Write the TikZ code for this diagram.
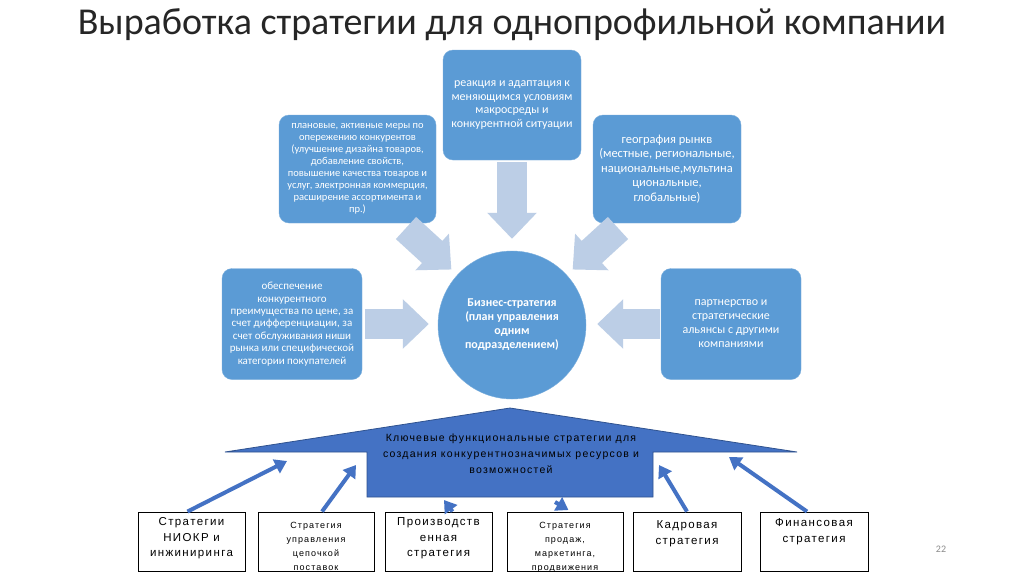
\documentclass[tikz,border=0pt]{standalone}
\usepackage{fontspec}
\setmainfont{Carlito}
\newfontfamily\boxfont[LetterSpace=12]{Liberation Sans}
\usepackage{tikz}
\usetikzlibrary{arrows.meta,positioning}
\definecolor{boxblue}{RGB}{91,155,213}
\definecolor{fatgray}{RGB}{188,206,230}
\definecolor{roofblue}{RGB}{68,114,196}
\definecolor{roofedge}{RGB}{47,82,143}

\begin{document}
\begin{tikzpicture}[x=1pt,y=-1pt,
    goal/.style={rectangle,rounded corners=10pt,fill=boxblue,draw=boxblue!80!white,
                 text=white,align=center,inner sep=2pt},
    fat/.style={line width=30pt,color=fatgray,-{Triangle[length=26pt,width=48pt]}},
    thin/.style={line width=4pt,color=roofblue,-{Triangle[length=12pt,width=15pt]}},
    stratbox/.style={draw=black,line width=0.9pt,fill=white,minimum height=59pt,inner sep=0pt},
    strat/.style={align=center,inner sep=1pt,font=\boxfont\fontsize{11.5}{15.5}\selectfont},
    stratsmall/.style={align=center,inner sep=1pt,font=\boxfont\fontsize{9}{14}\selectfont}]
  \fill[white] (0,0) rectangle (1024,574);
  \useasboundingbox (0,0) rectangle (1024,574);

  \node[text=black!85,font=\fontsize{38}{40}\selectfont] (title) at (512,25)
       {Выработка стратегии для однопрофильной компании};

  % upper row of goals
  \node[goal,minimum width=138pt,minimum height=110pt,font=\fontsize{12}{13.5}\selectfont]
       (react) at (512,105) {реакция и адаптация к\\меняющимся условиям\\макросреды и\\конкурентной ситуации};
  \node[goal,minimum width=157pt,minimum height=108pt,font=\fontsize{10.5}{12}\selectfont]
       (plan) at (357.5,169) {плановые, активные меры по\\опережению конкурентов\\(улучшение дизайна товаров,\\добавление свойств,\\повышение качества товаров и\\услуг, электронная коммерция,\\расширение ассортимента и\\пр.)};
  \node[goal,minimum width=148pt,minimum height=108pt,font=\fontsize{12.5}{14.5}\selectfont]
       (geo) at (667,169) {география рынкв\\(местные, региональные,\\национальные,мультина\\циональные,\\глобальные)};

  % middle row
  \node[goal,minimum width=140pt,minimum height=111pt,font=\fontsize{11}{12.4}\selectfont]
       (price) at (292,324) {обеспечение\\конкурентного\\преимущества по цене, за\\счет дифференциации, за\\счет обслуживания ниши\\рынка или специфической\\категории покупателей};
  \node[goal,minimum width=140pt,minimum height=111pt,font=\fontsize{12}{14}\selectfont]
       (partner) at (731,324) {партнерство и\\стратегические\\альянсы с другими\\компаниями};
  \node[circle,fill=boxblue,draw=boxblue!80!white,minimum size=148pt,text=white,align=center,
        font=\bfseries\fontsize{12}{14}\selectfont]
       (biz) at (512,325) {Бизнес-стратегия\\(план управления\\одним\\подразделением)};

  \coordinate (ulA) at (406,228);
  \coordinate (urA) at (618,228);
  \path[fat] (react) edge[shorten <=2pt,shorten >=12pt] (biz)
             (ulA) edge[shorten >=8pt] (biz)
             (urA) edge[shorten >=8pt] (biz)
             (price.east) edge[shorten <=3pt,shorten >=9pt] (price.east -| biz.west)
             (partner.west) edge[shorten <=1pt,shorten >=11pt] (partner.west -| biz.east);

  % functional strategies
  \draw[fill=roofblue,draw=roofedge,line width=0.8pt]
       (225,452) -- (510,408) -- (797,452) -- (653,452) -- (653,497) -- (367,497) -- (367,452) -- cycle;
  \node[align=center,font=\boxfont\fontsize{10.5}{16}\selectfont] (keyfn) at (511,454)
       {Ключевые функциональные стратегии для\\создания конкурентнозначимых ресурсов и\\возможностей};

  \node[stratbox,minimum width=107pt] (rnd)   at (191.5,541.5) {};
  \node[stratbox,minimum width=116pt] (chain) at (316,541.5) {};
  \node[stratbox,minimum width=107pt] (prod)  at (438.5,541.5) {};
  \node[stratbox,minimum width=116pt] (sales) at (565,541.5) {};
  \node[stratbox,minimum width=108pt] (hr)    at (687,541.5) {};
  \node[stratbox,minimum width=108pt] (fin)   at (814,541.5) {};

  \node[strat,below=5pt of rnd.north] {Стратегии\\НИОКР и\\инжиниринга};
  \begin{scope}
    \clip (chain.south west) rectangle (chain.north east);
    \node[stratsmall,below=9pt of chain.north] {Стратегия\\управления\\цепочкой\\поставок};
  \end{scope}
  \node[strat,below=5pt of prod.north] {Производств\\енная\\стратегия};
  \begin{scope}
    \clip (sales.south west) rectangle (sales.north east);
    \node[stratsmall,below=9pt of sales.north] {Стратегия\\продаж,\\маркетинга,\\продвижения};
  \end{scope}
  \node[strat,below=8pt of hr.north] {Кадровая\\стратегия};
  \node[strat,below=6pt of fin.north] {Финансовая\\стратегия};

  \coordinate (h1) at (287,461);
  \coordinate (h2) at (356,465);
  \coordinate (h3) at (444,500);
  \coordinate (h4) at (555,502);
  \coordinate (h5) at (659,465);
  \coordinate (h6) at (729,457);
  \path[thin] ([xshift=-4pt]rnd.north) edge (h1)
              ([xshift=6pt]chain.north) edge (h2)
              ([xshift=14pt]prod.north) edge (h3)
              (h4) edge[shorten >=3pt] ([xshift=6pt]sales.north)
              (hr.north) edge (h5)
              ([xshift=-7pt]fin.north) edge (h6);

  \node[text=black!45,font=\fontsize{10}{12}\selectfont] (pnum) at (941,549) {22};
\end{tikzpicture}
\end{document}
